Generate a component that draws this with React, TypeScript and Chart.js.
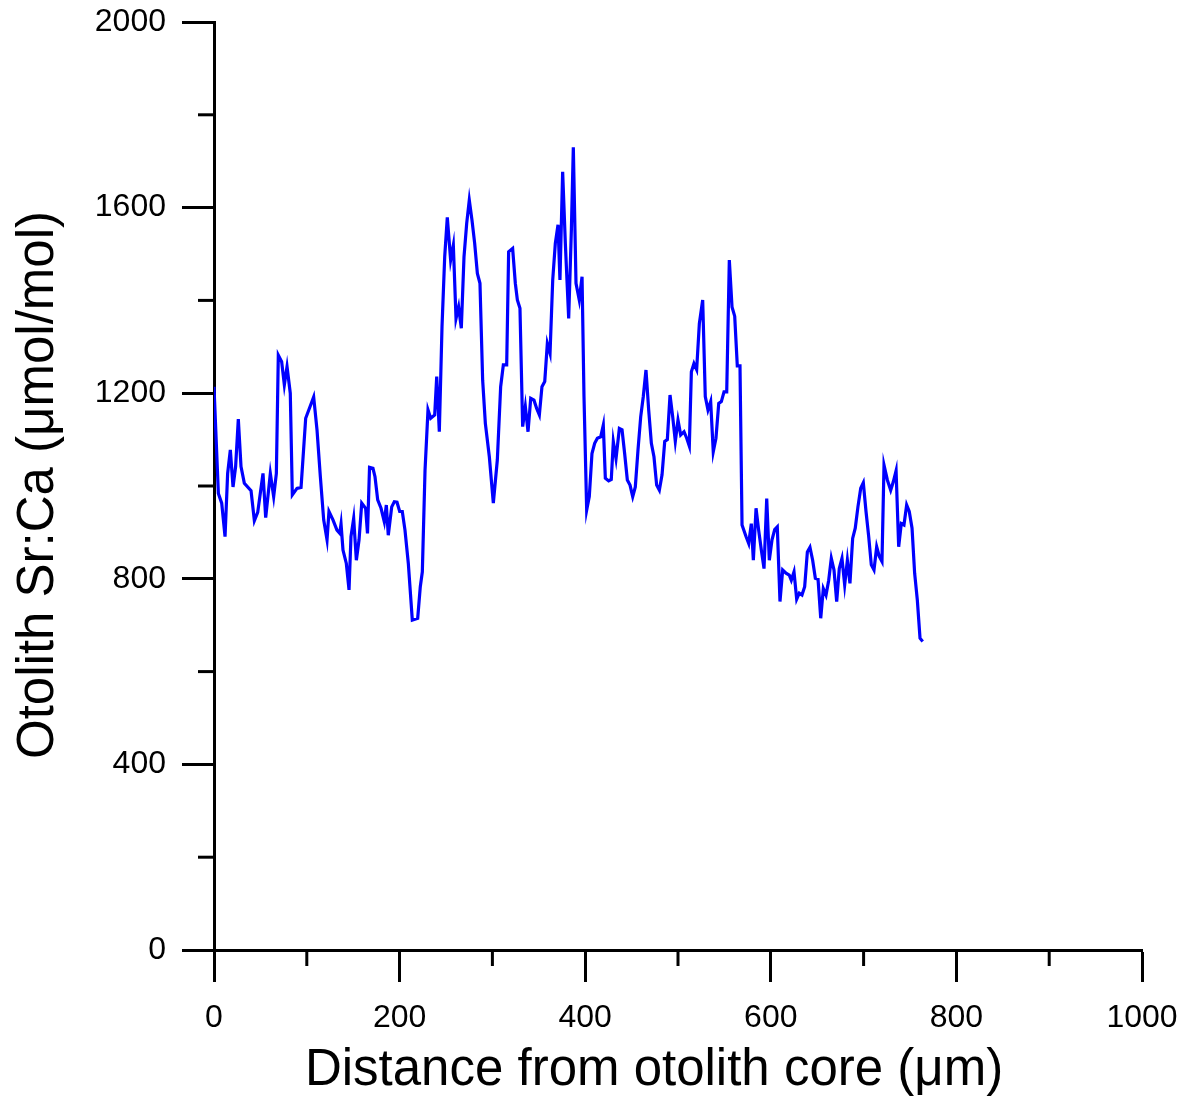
import React, { useEffect, useRef } from "react";
import { Chart, registerables } from "chart.js";

Chart.register(...registerables);

// Distance from otolith core (µm)
const distance: number[] = [
  0, 4.7, 8.3, 11.9, 14.7, 17.6, 20.5, 23.3, 26.2, 29.1,
  32.7, 39.9, 43.5, 47.1, 52.8, 55.7, 60.7, 64.3, 67.2, 69.3,
  72.9, 75.8, 78.7, 82.2, 84.4, 89.4, 93.8, 98.8, 107.4, 111,
  114.6, 118.2, 121.8, 123.9, 128.2, 132.5, 135.5, 136.9, 139, 142.6,
  145.5, 147.6, 150.5, 153.4, 156.3, 159.2, 163.4, 165.4, 167.6, 171.3,
  173.5, 176.4, 180, 183.5, 185.7, 187.8, 191.5, 194.3, 197.2, 200.1,
  202.9, 205.8, 209.4, 213.7, 219.5, 222.3, 224.5, 227.4,
  230.6, 233.5, 237.8, 240, 242.8, 245.7, 248.6, 251.4, 255, 257.9,
  260.8, 263.6, 266.5, 269.4, 272.3, 275.1, 278, 280.9, 283.8, 286.6,
  289.5, 292.4, 296.7, 301, 305.3, 308.9, 311.8, 315.4, 317.5, 321.8,
  324.7, 326.9, 329.7, 332.6, 335.5, 338.4, 341.3, 344.8, 347.7, 350.6,
  353.4, 356.4, 359.2, 362.1, 365, 367.8, 370.7, 372.8, 375.7, 378.6,
  382.2, 385.1, 387.2, 390.1, 393.6, 396.6, 398.7,
  401.6, 404.4, 407.3, 410.2, 413.1, 416.7, 419.5, 421.7, 425.3, 428.1,
  430.3, 433.2, 436.8, 439.7, 442.5, 445.4, 448.3, 451.2, 454, 456.9,
  459.8, 462.6, 465.5, 468.4, 471.3, 474.1, 477, 479.9, 482.8, 485.7,
  488.5, 491.4, 494.3, 497.1, 500, 502.9, 506.5, 509.4, 512.2, 514.4,
  517.2, 520.1, 523, 526.6, 529.4, 532.3, 535.2, 538, 540.9, 543.9,
  546.7, 549.6, 552.5, 555.3, 558.2, 561.1, 563.9, 566.8,
  569, 573.3, 576.2, 579, 581.2, 584.1, 586.9, 589.8, 592.7, 595.6,
  598.4, 601.3, 604.2, 607, 609.9, 612.8, 616.4, 619.9, 622.1, 625,
  627.9, 630.7, 633.6, 636.5, 639.4, 642.2, 645.1, 648, 650.9, 653.8,
  656.6, 659.5, 662.4, 665.2, 668.1, 671, 673.8, 676.7, 679.6, 682.5,
  685.3, 688.2, 691, 693.9, 696.9, 699.7, 702.6, 705.5, 708.3, 711.2,
  714.1, 716.9, 719.8, 722, 725.6, 729.2, 732, 735, 737.8, 740.6,
  743.5, 746.4, 749.2, 752.2, 755, 757.9, 760.8, 763.7,
];

// Otolith Sr:Ca (µmol/mol)
const srCa: number[] = [
  1214, 984, 963, 891, 1027, 1078, 998, 1042, 1144, 1042,
  1006, 990, 925, 943, 1027, 932, 1027, 977, 1027, 1282,
  1268, 1218, 1257, 1200, 981, 995, 997, 1146, 1192, 1121,
  1020, 927, 884, 945, 927, 905, 898, 918, 862, 833,
  776, 891, 930, 840, 884, 963, 952, 898, 1040, 1038,
  1020, 970, 952, 923, 959, 894, 955, 966, 965, 945,
  945, 905, 833, 711, 715, 783, 815, 1034,
  1164, 1146, 1153, 1236, 1117, 1343, 1494, 1579, 1487, 1519,
  1361, 1386, 1340, 1494, 1566, 1616, 1573, 1523, 1458, 1437,
  1228, 1135, 1063, 963, 1056, 1214, 1261, 1261, 1505, 1512,
  1437, 1401, 1383, 1128, 1171, 1117, 1189, 1185, 1167, 1153,
  1214, 1225, 1307, 1286, 1444, 1523, 1563, 1444, 1677, 1523,
  1361, 1552, 1730, 1437, 1401, 1451, 1193,
  948, 977, 1070, 1092, 1103, 1106, 1131, 1017, 1011, 1014,
  1096, 1059, 1124, 1121, 1070, 1013, 1002, 977, 998, 1078,
  1149, 1193, 1250, 1164, 1092, 1063, 1002, 991, 1024, 1096,
  1100, 1196, 1149, 1096, 1142, 1110, 1117, 1103, 1086, 1246,
  1264, 1251, 1350, 1401, 1193, 1164, 1182, 1074, 1103, 1178,
  1182, 1203, 1203, 1487, 1386, 1366, 1259, 1259,
  916, 891, 876, 919, 840, 952, 905, 862, 822, 973,
  840, 884, 906, 912, 751, 819, 812, 808, 797, 815,
  756, 769, 765, 783, 858, 868, 840, 801, 799, 715,
  779, 765, 797, 844, 819, 751, 822, 844, 787, 840,
  790, 887, 909, 955, 995, 1007, 945, 891, 830, 819,
  869, 848, 837, 1045, 1013, 991, 1009, 1033, 869, 919,
  916, 959, 945, 909, 812, 754, 672, 665,
];

const xTitle = "Distance from otolith core (\u03bcm)";
const yTitle = "Otolith Sr:Ca (\u03bcmol/mol)";
const xRange: number[] = [0, 1000];
const yRange: number[] = [0, 2000];
const xStep = 200;
const yStep = 400;

const FONT = "'Liberation Sans', Arial, sans-serif";

const axisDecor = {
  id: "axisDecor",
  afterDraw(chart: any) {
    const { ctx, chartArea, scales } = chart;
    ctx.save();
    ctx.strokeStyle = "#000";
    ctx.lineWidth = 3;
    const xs = scales.x;
    const xt = xs.ticks.map((t: any) => t.value);
    for (let i = 0; i < xt.length - 1; i++) {
      const v = (xt[i] + xt[i + 1]) / 2;
      const px = xs.getPixelForValue(v);
      ctx.beginPath();
      ctx.moveTo(px, chartArea.bottom);
      ctx.lineTo(px, chartArea.bottom + 16);
      ctx.stroke();
    }
    const ys = scales.y;
    const yt = ys.ticks.map((t: any) => t.value);
    for (let i = 0; i < yt.length - 1; i++) {
      const v = (yt[i] + yt[i + 1]) / 2;
      const py = ys.getPixelForValue(v);
      ctx.beginPath();
      ctx.moveTo(chartArea.left - 16, py);
      ctx.lineTo(chartArea.left, py);
      ctx.stroke();
    }
    // axis titles
    ctx.fillStyle = "#000";
    ctx.font = `51px ${FONT}`;
    ctx.textAlign = "center";
    ctx.textBaseline = "alphabetic";
    ctx.fillText(xTitle, 654, 1085);
    ctx.translate(53, 485);
    ctx.rotate(-Math.PI / 2);
    ctx.fillText(yTitle, 0, 0);
    ctx.restore();
  },
};

export default function App() {
  const ref = useRef<HTMLCanvasElement | null>(null);
  useEffect(() => {
    if (!ref.current) return;
    const points = distance.map((d, i) => ({ x: d, y: srCa[i] }));
    const chart = new Chart(ref.current, {
      type: "line",
      data: {
        datasets: [
          {
            data: points,
            borderColor: "#0000ff",
            borderWidth: 3.2,
            pointRadius: 0,
            tension: 0,
            fill: false,
          },
        ],
      },
      options: {
        animation: false,
        responsive: false,
        maintainAspectRatio: false,
        layout: { padding: { top: 22, right: 44, left: 0, bottom: 0 } },
        plugins: { legend: { display: false }, tooltip: { enabled: false } },
        scales: {
          x: {
            type: "linear",
            min: xRange[0],
            max: xRange[1],
            afterFit: (s: any) => {
              s.height = 149;
              s.paddingLeft = 0;
              s.paddingRight = 0;
            },
            ticks: {
              stepSize: xStep,
              color: "#000",
              padding: 17,
              font: { family: FONT, size: 32 },
              maxRotation: 0,
              callback: (v: any) => String(v),
            },
            grid: {
              drawOnChartArea: false,
              drawTicks: true,
              tickLength: 32,
              tickWidth: 3,
              tickColor: "#000",
            },
            border: { color: "#000", width: 3 },
          },
          y: {
            type: "linear",
            min: yRange[0],
            max: yRange[1],
            afterFit: (s: any) => {
              s.width = 214;
              s.paddingTop = 0;
              s.paddingBottom = 0;
            },
            ticks: {
              stepSize: yStep,
              color: "#000",
              padding: 16,
              font: { family: FONT, size: 32 },
              callback: (v: any) => String(v),
            },
            grid: {
              drawOnChartArea: false,
              drawTicks: true,
              tickLength: 32,
              tickWidth: 3,
              tickColor: "#000",
            },
            border: { color: "#000", width: 3 },
          },
        },
      },
      plugins: [axisDecor],
    });
    return () => chart.destroy();
  }, []);
  return (
    <div style={{ position: "absolute", left: 0, top: 0, width: 1186, height: 1099, background: "#fff" }}>
      <canvas ref={ref} width={1186} height={1099} />
    </div>
  );
}
